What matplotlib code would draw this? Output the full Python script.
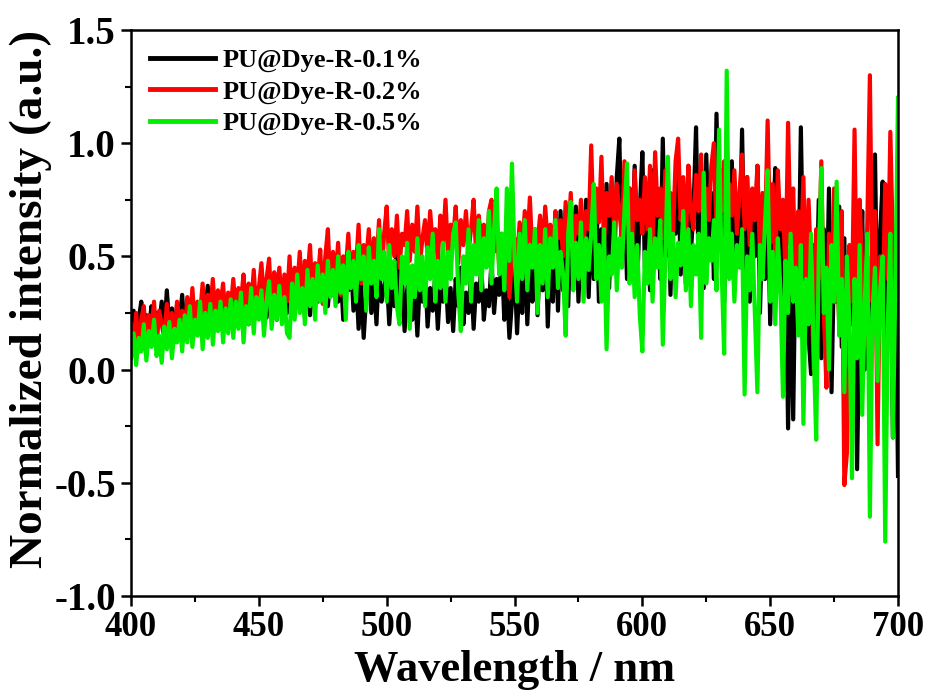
import numpy as np
import matplotlib
matplotlib.use("Agg")
import matplotlib.pyplot as plt
from matplotlib.ticker import MultipleLocator, FormatStrFormatter

# 1 nm grid, each row below covers 20 nm
wavelength = np.arange(400, 701)

dye_01 = [
    0.15, 0.26, 0.12, 0.22, 0.3, 0.14, 0.24, 0.18, 0.28, 0.11, 0.25, 0.2, 0.3, 0.16, 0.35, 0.19, 0.27, 0.13, 0.29, 0.21,
    0.33, 0.17, 0.26, 0.22, 0.31, 0.16, 0.28, 0.2, 0.3, 0.24, 0.37, 0.19, 0.27, 0.23, 0.32, 0.18, 0.29, 0.25, 0.33, 0.21,
    0.28, 0.35, 0.22, 0.31, 0.26, 0.37, 0.2, 0.33, 0.28, 0.36, 0.24, 0.3, 0.38, 0.23, 0.34, 0.27, 0.36, 0.22, 0.32, 0.29,
    0.38, 0.25, 0.41, 0.3, 0.36, 0.44, 0.27, 0.39, 0.33, 0.42, 0.24, 0.37, 0.45, 0.3, 0.4, 0.35, 0.46, 0.28, 0.42, 0.33,
    0.48, 0.3, 0.44, 0.22, 0.4, 0.35, 0.5, 0.26, 0.42, 0.18, 0.38, 0.14, 0.33, 0.45, 0.25, 0.4, 0.2, 0.46, 0.3, 0.36,
    0.42, 0.2, 0.38, 0.28, 0.6, 0.24, 0.4, 0.17, 0.35, 0.44, 0.22, 0.37, 0.15, 0.4, 0.3, 0.45, 0.19, 0.36, 0.26, 0.42,
    0.18, 0.38, 0.3, 0.44, 0.21, 0.36, 0.17, 0.4, 0.28, 0.45, 0.2, 0.34, 0.25, 0.42, 0.18, 0.38, 0.3, 0.46, 0.22, 0.35,
    0.28, 0.48, 0.25, 0.4, 0.33, 0.5, 0.22, 0.38, 0.14, 0.3, 0.45, 0.16, 0.42, 0.25, 0.55, 0.2, 0.48, 0.3, 0.6, 0.24,
    0.52, 0.35, 0.65, 0.19, 0.5, 0.3, 0.62, 0.26, 0.7, 0.35, 0.58, 0.28, 0.66, 0.4, 0.72, 0.3, 0.6, 0.45, 0.75, 0.32,
    0.68, 0.4, 0.78, 0.3, 0.62, 0.5, 0.82, 0.36, 0.7, 0.45, 0.85, 1.02, 0.5, 0.74, 0.4, 0.8, 0.55, 0.9, 0.38, 0.7,
    0.96, 0.45, 0.78, 0.35, 0.88, 0.55, 0.72, 0.4, 1.02, 0.5, 0.85, 0.33, 0.76, 0.6, 0.92, 0.42, 0.8, 0.38, 0.9, 0.52,
    0.7, 1.07, 0.45, 0.82, 0.36, 0.95, 0.55, 0.78, 0.4, 1.13, 0.6, 0.88, 0.3, 0.8, 0.48, 0.92, 0.35, 0.75, 0.5, 1.06,
    0.42, 0.85, 0.3, 0.7, 0.5, 0.9, 0.25, 0.68, 0.4, 0.82, 0.2, 0.6, 0.89, 0.35, 0.72, 0.1, 0.55, -0.26, 0.45, -0.22,
    0.6, 0.3, 1.07, 0.4, 0.7, 0.15, -0.02, 0.55, 0.25, 0.75, 0.05, 0.62, 0.2, 0.8, -0.1, 0.5, 0.3, 0.72, 0.1, 0.58,
    -0.15, 0.45, 0.2, 0.65, -0.44, 0.3, 0.7, 0.0, 0.5, -0.2, 0.4, 0.95, 0.15, 0.6, 0.83, -0.1, 0.35, 0.7, -0.3, 0.5,
    -0.47,
]

dye_02 = [
    0.2, 0.1, 0.25, 0.08, 0.22, 0.28, 0.12, 0.24, 0.17, 0.3, 0.1, 0.26, 0.2, 0.14, 0.29, 0.18, 0.25, 0.12, 0.3, 0.21,
    0.26, 0.15, 0.32, 0.2, 0.36, 0.18, 0.3, 0.24, 0.38, 0.2, 0.33, 0.26, 0.4, 0.22, 0.35, 0.28, 0.38, 0.21, 0.34, 0.27,
    0.4, 0.24, 0.36, 0.3, 0.42, 0.22, 0.38, 0.28, 0.44, 0.25, 0.36, 0.47, 0.3, 0.4, 0.49, 0.26, 0.43, 0.33, 0.45, 0.28,
    0.42, 0.3, 0.5, 0.27, 0.45, 0.36, 0.52, 0.3, 0.48, 0.4, 0.55, 0.32, 0.47, 0.38, 0.53, 0.29, 0.5, 0.62, 0.35, 0.52,
    0.4, 0.56, 0.33, 0.5, 0.44, 0.6, 0.36, 0.52, 0.45, 0.64, 0.38, 0.55, 0.48, 0.62, 0.4, 0.58, 0.46, 0.66, 0.42, 0.6,
    0.72, 0.46, 0.62, 0.5, 0.68, 0.45, 0.6, 0.55, 0.7, 0.48, 0.64, 0.52, 0.72, 0.47, 0.58, 0.66, 0.5, 0.7, 0.55, 0.62,
    0.48, 0.68, 0.56, 0.75, 0.5, 0.64, 0.58, 0.72, 0.47, 0.66, 0.55, 0.7, 0.52, 0.62, 0.75, 0.5, 0.68, 0.57, 0.64, 0.49,
    0.7, 0.75, 0.52, 0.66, 0.45, 0.6, 0.38, 0.55, 0.32, 0.5, 0.58, 0.48, 0.65, 0.52, 0.7, 0.55, 0.76, 0.5, 0.62, 0.56,
    0.68, 0.5, 0.72, 0.55, 0.64, 0.48, 0.7, 0.58, 0.66, 0.5, 0.74, 0.56, 0.78, 0.52, 0.68, 0.6, 0.75, 0.55, 0.7, 0.62,
    0.99, 0.58, 0.8, 0.65, 0.94, 0.55, 0.78, 0.68, 0.85, 0.6, 0.82, 0.7, 0.58, 0.92, 0.64, 0.8, 0.55, 0.88, 0.66, 0.75,
    0.6, 0.85, 0.62, 0.9, 0.55, 0.96, 0.68, 0.8, 0.58, 0.88, 0.65, 0.78, 0.6, 0.92, 1.02, 0.66, 0.85, 0.55, 0.9, 0.7,
    0.62, 0.86, 0.7, 0.95, 0.58, 0.8, 0.66, 0.9, 1.0, 0.6, 0.84, 0.7, 0.92, 0.56, 0.82, 0.68, 0.88, 0.6, 0.78, 0.95,
    0.62, 0.85, 0.55, 0.8, 0.66, 0.9, 0.5, 0.78, 0.6, 1.1, 0.56, 0.82, 0.45, 0.88, 0.62, 0.75, 0.4, 1.09, 0.55, 0.8,
    0.35, 0.7, 0.5, 0.85, 0.3, 0.75, 0.45, 0.0, 0.62, 0.4, 0.92, 0.25, -0.08, 0.6, 0.35, 0.8, 0.5, 0.2, 0.7, -0.51,
    -0.37, 0.55, 0.3, 1.06, 0.2, 0.75, 0.45, 0.1, 0.65, 1.3, 0.3, 0.7, -0.33, 0.5, 0.25, 0.82, 0.4, 1.05, 0.55, 0.3,
    0.35,
]

dye_05 = [
    0.05, 0.16, 0.02, 0.14, 0.08, 0.2, 0.04, 0.17, 0.1, 0.22, 0.06, 0.15, 0.03, 0.19, 0.09, 0.21, 0.05, 0.18, 0.12, 0.22,
    0.08, 0.24, 0.12, 0.28, 0.1, 0.22, 0.15, 0.3, 0.09, 0.25, 0.14, 0.29, 0.11, 0.26, 0.17, 0.3, 0.12, 0.27, 0.16, 0.31,
    0.14, 0.3, 0.18, 0.34, 0.12, 0.28, 0.2, 0.36, 0.16, 0.32, 0.22, 0.35, 0.15, 0.3, 0.39, 0.18, 0.33, 0.22, 0.37, 0.2,
    0.32, 0.16, 0.14, 0.38, 0.22, 0.42, 0.25, 0.36, 0.2, 0.44, 0.28, 0.4, 0.22, 0.46, 0.3, 0.42, 0.25, 0.48, 0.32, 0.44,
    0.28, 0.5, 0.34, 0.46, 0.22, 0.52, 0.36, 0.48, 0.3, 0.55, 0.4, 0.5, 0.26, 0.54, 0.38, 0.48, 0.32, 0.62, 0.4, 0.52,
    0.3, 0.55, 0.36, 0.48, 0.28, 0.2, 0.5, 0.38, 0.56, 0.18, 0.46, 0.32, 0.58, 0.35, 0.5, 0.28, 0.54, 0.4, 0.6, 0.3,
    0.48, 0.36, 0.56, 0.3, 0.52, 0.4, 0.6, 0.65, 0.34, 0.17, 0.5, 0.38, 0.62, 0.3, 0.55, 0.42, 0.66, 0.35, 0.58, 0.45,
    0.7, 0.38, 0.62, 0.8, 0.42, 0.6, 0.35, 0.8, 0.48, 0.91, 0.5, 0.3, 0.6, 0.4, 0.66, 0.35, 0.55, 0.45, 0.62, 0.25,
    0.55, 0.38, 0.62, 0.32, 0.58, 0.45, 0.66, 0.36, 0.52, 0.42, 0.15, 0.6, 0.74, 0.35, 0.56, 0.4, 0.65, 0.3, 0.58, 0.44,
    0.6, 0.82, 0.4, 0.55, 0.3, 0.62, 0.09, 0.5, 0.42, 0.65, 0.35, 0.58, 0.45, 0.7, 0.91, 0.38, 0.6, 0.32, 0.55, 0.24,
    0.08, 0.52, 0.38, 0.62, 0.3, 0.58, 0.45, 0.66, 0.11, 0.5, 0.94, 0.4, 0.6, 0.32, 0.56, 0.46, 0.7, 0.35, 0.62, 0.28,
    0.55, 0.42, 0.6, 0.14, 0.87, 0.38, 0.58, 0.48, 0.66, 0.35, 1.06, 0.45, 0.07, 1.32, 0.4, 0.6, 0.3, 0.55, 0.45, 0.62,
    -0.11, 0.5, 0.35, 0.6, 0.25, -0.1, 0.55, 0.4, 0.65, 0.88, 0.3, 0.52, 0.2, 0.58, 0.36, -0.12, 0.48, 0.25, 0.6, 0.3,
    0.45, 0.15, 0.55, -0.24, 0.4, 0.2, 0.6, 0.1, -0.31, 0.5, 0.89, 0.25, 0.45, 0.0, 0.55, 0.3, 0.83, 0.15, 0.4, -0.1,
    0.5, 0.2, -0.48, 0.4, 0.05, 0.55, -0.2, 0.3, 0.6, -0.65, 0.25, 0.45, -0.05, 0.35, 0.5, -0.76, 0.2, 0.6, -0.3, 0.4,
    1.2,
]

labels = ["PU@Dye-R-0.1%", "PU@Dye-R-0.2%", "PU@Dye-R-0.5%"]
colors = ["#000000", "#ff0000", "#00ee00"]

plt.rcParams["font.family"] = ["Liberation Serif", "DejaVu Serif"]
plt.rcParams["font.weight"] = "bold"

fig = plt.figure(figsize=(9.3, 7.0), dpi=100)
ax = fig.add_axes([0.1409, 0.1486, 0.8247, 0.8086])

for y, lab, c in zip([dye_01, dye_02, dye_05], labels, colors):
    ax.plot(wavelength, y, color=c, lw=3.0, label=lab)

ax.set_xlim(400, 700)
ax.set_ylim(-1.0, 1.5)
ax.xaxis.set_major_locator(MultipleLocator(50))
ax.xaxis.set_minor_locator(MultipleLocator(25))
ax.yaxis.set_major_locator(MultipleLocator(0.5))
ax.yaxis.set_minor_locator(MultipleLocator(0.25))
ax.yaxis.set_major_formatter(FormatStrFormatter("%.1f"))

for s in ax.spines.values():
    s.set_linewidth(1.8)
ax.tick_params(which="major", direction="out", length=7, width=1.8, pad=4)
ax.tick_params(axis="x", which="major", labelsize=25)
ax.tick_params(axis="y", which="major", labelsize=28)
ax.tick_params(which="minor", direction="out", length=4, width=1.5)
ax.tick_params(top=False, right=False)

ax.set_xlabel("Wavelength / nm", fontsize=32, fontweight="bold", labelpad=4)
ax.set_ylabel("Normalized intensity (a.u.)", fontsize=34, fontweight="bold")
ax.yaxis.set_label_coords(-0.103, 0.525)

leg = ax.legend(loc="upper left", frameon=False, fontsize=19, handlelength=2.5,
                handletextpad=0.25, labelspacing=0.3, borderaxespad=0.3)
for h in leg.get_lines():
    h.set_linewidth(3.5)

fig.savefig("out.png", dpi=100)
